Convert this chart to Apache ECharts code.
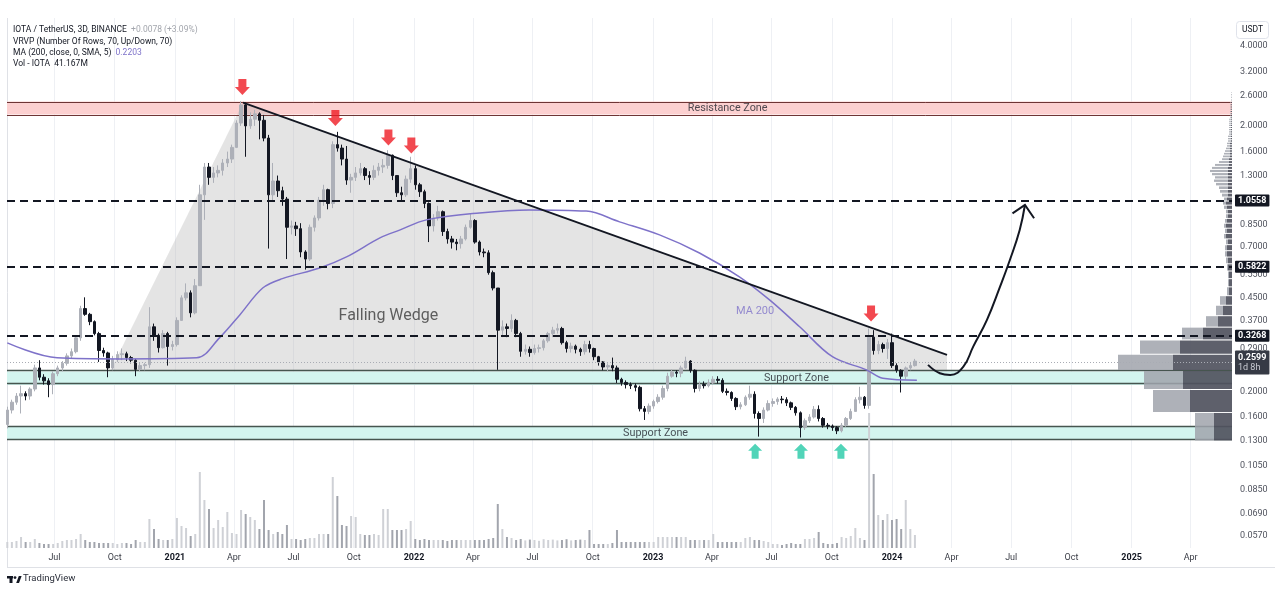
<!DOCTYPE html>
<html><head><meta charset="utf-8">
<script src="https://cdn.jsdelivr.net/npm/echarts@6/dist/echarts.min.js"></script>
<style>html,body{margin:0;padding:0;background:#fff}#chart{width:1280px;height:592px}</style>
</head><body><div id="chart"></div>
<script>
// ---------- DATA ----------
const firstWeek = '2020-04-20';           // weekly candles, one row per week
// [open, close, low, high]
const candles = [
[0.150,0.170,0.145,0.175],[0.170,0.182,0.165,0.186],[0.182,0.192,0.178,0.197],[0.192,0.196,0.165,0.210],[0.196,0.192,0.185,0.200],
[0.192,0.204,0.186,0.207],[0.204,0.245,0.200,0.252],[0.245,0.226,0.220,0.262],[0.226,0.219,0.212,0.232],[0.219,0.212,0.190,0.224],
[0.212,0.233,0.195,0.238],[0.233,0.245,0.228,0.250],[0.245,0.255,0.238,0.260],[0.255,0.272,0.250,0.278],[0.272,0.282,0.265,0.290],
[0.282,0.318,0.278,0.325],[0.318,0.410,0.310,0.420],[0.410,0.390,0.385,0.452],[0.390,0.366,0.355,0.395],[0.366,0.330,0.325,0.370],
[0.330,0.285,0.258,0.335],[0.285,0.279,0.270,0.292],[0.279,0.245,0.226,0.282],[0.245,0.264,0.240,0.272],[0.264,0.275,0.258,0.283],
[0.275,0.277,0.262,0.290],[0.277,0.268,0.260,0.282],[0.268,0.262,0.255,0.272],[0.262,0.242,0.228,0.265],[0.242,0.250,0.238,0.256],
[0.250,0.252,0.240,0.256],[0.252,0.350,0.245,0.415],[0.350,0.325,0.310,0.360],[0.325,0.292,0.280,0.330],[0.292,0.330,0.290,0.340],
[0.330,0.295,0.250,0.335],[0.295,0.300,0.285,0.310],[0.300,0.370,0.295,0.380],[0.370,0.450,0.370,0.460],[0.450,0.470,0.440,0.510],
[0.470,0.395,0.380,0.480],[0.395,0.500,0.390,0.530],[0.500,1.100,0.500,1.200],[1.100,1.400,0.885,1.450],[1.400,1.280,1.200,1.450],
[1.280,1.330,1.220,1.400],[1.330,1.360,1.280,1.420],[1.360,1.450,1.300,1.500],[1.450,1.500,1.400,1.600],[1.500,1.660,1.450,1.700],
[1.660,2.050,1.650,2.100],[2.050,2.400,2.000,2.480],[2.400,2.000,1.530,2.450],[2.000,2.120,1.950,2.250],[2.120,2.220,2.000,2.300],
[2.220,2.100,1.780,2.250],[2.100,1.800,1.750,2.200],[1.800,1.100,0.690,1.850],[1.100,1.240,1.050,1.450],[1.240,1.140,1.080,1.300],
[1.140,1.060,1.000,1.180],[1.060,0.830,0.630,1.080],[0.830,0.840,0.780,0.880],[0.840,0.820,0.770,0.870],[0.820,0.670,0.640,0.860],
[0.670,0.630,0.575,0.680],[0.630,0.830,0.620,0.850],[0.830,0.900,0.800,0.920],[0.900,1.050,0.880,1.080],[1.050,1.150,1.000,1.200],
[1.150,1.020,0.970,1.160],[1.020,1.700,0.980,1.750],[1.700,1.650,1.600,1.900],[1.650,1.500,1.420,1.700],[1.500,1.250,1.200,1.680],
[1.250,1.280,1.120,1.320],[1.280,1.330,1.240,1.400],[1.330,1.380,1.300,1.450],[1.380,1.300,1.250,1.400],[1.300,1.280,1.200,1.350],
[1.280,1.360,1.250,1.420],[1.360,1.400,1.300,1.450],[1.400,1.420,1.330,1.500],[1.420,1.550,1.380,1.620],[1.550,1.300,1.250,1.560],
[1.300,1.120,1.080,1.300],[1.120,1.100,1.040,1.180],[1.100,1.260,1.080,1.300],[1.260,1.380,1.220,1.530],[1.380,1.200,1.150,1.420],
[1.200,1.130,1.080,1.220],[1.130,1.020,0.980,1.150],[1.020,0.840,0.730,1.030],[0.840,0.900,0.800,0.930],[0.900,0.950,0.880,1.000],
[0.950,0.800,0.770,0.960],[0.800,0.750,0.720,0.820],[0.750,0.730,0.690,0.770],[0.730,0.720,0.680,0.750],[0.720,0.750,0.690,0.770],
[0.750,0.830,0.740,0.850],[0.830,0.880,0.820,0.930],[0.880,0.730,0.720,0.890],[0.730,0.670,0.650,0.740],[0.670,0.665,0.640,0.690],
[0.665,0.560,0.550,0.680],[0.560,0.490,0.480,0.570],[0.490,0.340,0.241,0.490],[0.340,0.350,0.320,0.370],[0.350,0.345,0.320,0.360],
[0.345,0.370,0.335,0.390],[0.370,0.330,0.320,0.375],[0.330,0.283,0.270,0.335],[0.283,0.288,0.275,0.300],[0.288,0.280,0.270,0.295],
[0.280,0.290,0.275,0.300],[0.290,0.292,0.280,0.300],[0.292,0.310,0.285,0.315],[0.310,0.330,0.305,0.335],[0.330,0.340,0.320,0.350],
[0.340,0.345,0.330,0.360],[0.345,0.305,0.300,0.350],[0.305,0.290,0.280,0.310],[0.290,0.296,0.280,0.305],[0.296,0.288,0.278,0.300],
[0.288,0.282,0.272,0.292],[0.282,0.300,0.275,0.310],[0.300,0.290,0.280,0.310],[0.290,0.270,0.262,0.292],[0.270,0.258,0.250,0.272],
[0.258,0.247,0.240,0.260],[0.247,0.250,0.238,0.255],[0.250,0.245,0.238,0.268],[0.245,0.222,0.215,0.250],[0.222,0.216,0.210,0.225],
[0.216,0.212,0.205,0.220],[0.212,0.210,0.204,0.216],[0.210,0.207,0.200,0.214],[0.207,0.172,0.168,0.210],[0.172,0.168,0.156,0.176],
[0.168,0.176,0.164,0.180],[0.176,0.183,0.172,0.186],[0.183,0.190,0.180,0.195],[0.190,0.205,0.186,0.210],[0.205,0.228,0.200,0.235],
[0.228,0.236,0.225,0.242],[0.236,0.234,0.226,0.240],[0.234,0.245,0.226,0.250],[0.245,0.260,0.243,0.270],[0.260,0.240,0.235,0.262],
[0.240,0.205,0.198,0.242],[0.205,0.212,0.200,0.218],[0.212,0.210,0.205,0.218],[0.210,0.215,0.207,0.222],[0.215,0.222,0.212,0.228],
[0.222,0.220,0.214,0.228],[0.220,0.200,0.197,0.224],[0.200,0.198,0.193,0.205],[0.198,0.188,0.184,0.200],[0.188,0.175,0.170,0.190],
[0.175,0.178,0.171,0.182],[0.178,0.190,0.176,0.193],[0.190,0.195,0.186,0.210],[0.195,0.165,0.158,0.200],[0.165,0.158,0.135,0.168],
[0.158,0.170,0.152,0.174],[0.170,0.180,0.168,0.185],[0.180,0.183,0.175,0.188],[0.183,0.187,0.178,0.190],[0.187,0.186,0.180,0.192],
[0.186,0.181,0.176,0.190],[0.181,0.174,0.170,0.183],[0.174,0.166,0.162,0.176],[0.166,0.146,0.134,0.168],[0.146,0.155,0.143,0.158],
[0.155,0.160,0.152,0.164],[0.160,0.171,0.158,0.176],[0.171,0.158,0.154,0.177],[0.158,0.149,0.146,0.160],[0.149,0.148,0.144,0.152],
[0.148,0.146,0.142,0.150],[0.146,0.142,0.138,0.148],[0.142,0.149,0.140,0.152],[0.149,0.158,0.147,0.160],[0.158,0.168,0.156,0.172],
[0.168,0.186,0.168,0.190],[0.186,0.190,0.180,0.208],[0.190,0.177,0.172,0.192],[0.177,0.320,0.172,0.345],[0.320,0.285,0.275,0.340],
[0.285,0.300,0.276,0.310],[0.300,0.290,0.280,0.305],[0.290,0.305,0.265,0.315],[0.305,0.250,0.245,0.330],[0.250,0.240,0.235,0.255],
[0.240,0.228,0.198,0.242],[0.228,0.245,0.222,0.248],[0.245,0.250,0.240,0.258],[0.250,0.260,0.248,0.265]
];
// weekly volume, millions
const volumes = [
30,30,35,55,30,30,45,25,20,20,20,25,35,40,40,45,70,40,30,30,
25,25,25,25,20,25,25,20,40,30,30,145,95,45,40,40,45,150,110,100,
60,70,380,240,195,100,140,105,180,75,70,190,170,155,140,95,240,90,70,80,
70,115,45,45,40,45,50,50,70,70,70,355,260,115,110,160,155,70,65,65,
70,65,195,195,90,90,90,95,135,45,40,45,40,40,40,40,35,40,40,40,
40,40,40,40,40,45,50,220,95,55,50,40,45,38,42,40,36,44,40,42,
38,40,44,38,40,42,40,90,20,20,20,20,25,90,30,30,30,30,30,30,
30,30,55,55,55,55,55,55,55,40,40,40,40,40,70,30,30,30,30,30,
30,50,55,40,40,35,30,20,20,15,20,25,20,20,45,45,50,80,25,20,
20,25,55,50,60,100,50,40,675,370,165,140,170,140,145,95,240,95,65
];
// MA 200
const maDates = ['2020-04-20','2020-07-05','2020-10-09','2021-02-03','2021-03-10','2021-04-10','2021-05-15','2021-06-14','2021-08-10','2021-09-20','2021-11-10','2021-12-10','2022-01-20','2022-04-11','2022-06-26','2022-09-21','2022-11-11','2023-01-11','2023-03-13','2023-05-13','2023-06-28','2023-08-13','2023-10-02','2023-11-23','2023-12-18','2024-02-08'];
const maValues = [0.3044,0.2675,0.265,0.2675,0.318,0.388,0.490,0.5315,0.583,0.642,0.757,0.81,0.885,0.94,0.965,0.955,0.87,0.777,0.664,0.540,0.442,0.350,0.270,0.241,0.224,0.2203];

const priceTicks = [4.0,3.2,2.6,2.0,1.6,1.3,0.85,0.7,0.55,0.45,0.37,0.29,0.2,0.16,0.13,0.105,0.085,0.069,0.057];
const timeTickDates = ['2020-07-01','2020-10-01','2021-01-01','2021-04-01','2021-07-01','2021-10-01','2022-01-01','2022-04-01','2022-07-01','2022-10-01','2023-01-01','2023-04-01','2023-07-01','2023-10-01','2024-01-01','2024-04-01','2024-07-01','2024-10-01','2025-01-01','2025-04-01'];
const timeTickLabels = ['Jul','Oct','2021','Apr','Jul','Oct','2022','Apr','Jul','Oct','2023','Apr','Jul','Oct','2024','Apr','Jul','Oct','2025','Apr'];

const levelPrices = [1.0558, 0.5822, 0.3268];
const lastPrice = 0.2599;
const countdown = '1d 8h';
const resistanceZone = [2.209, 2.472];
const supportZones = [[0.2114, 0.2377], [0.1312, 0.1473]];

const trendDates = ['2021-04-15', '2024-03-25'];
const trendPrices = [2.446, 0.2744];
const wedgeDates = ['2020-09-24', '2021-04-15', '2024-03-25', '2024-03-25'];
const wedgePrices = [0.238, 2.446, 0.2744, 0.238];

const redArrowDates = ['2021-04-14','2021-09-03','2021-11-23','2021-12-28','2023-11-30'];
const redArrowPrices = [2.803, 2.142, 1.809, 1.688, 0.393];
const tealArrowDates = ['2023-06-06','2023-08-15','2023-10-15'];
const tealArrowPrices = [0.1188, 0.1188, 0.1188];

const curveDates = ['2024-02-25','2024-03-14','2024-03-30','2024-04-19','2024-05-04','2024-05-25','2024-06-14','2024-06-29','2024-07-14','2024-07-22'];
const curvePrices = [0.2515,0.234,0.2306,0.2478,0.2947,0.3716,0.496,0.625,0.811,1.007];
const headDates = ['2024-07-03','2024-07-22','2024-08-05'];
const headPrices = [0.937, 1.007, 0.898];

const noteTexts = ['Falling Wedge','MA 200','Resistance Zone','Support Zone','Support Zone'];
const noteDates = ['2021-11-23','2023-06-06','2023-04-25','2023-08-08','2023-01-05'];
const notePrices = [0.385, 0.4016, 2.336, 0.2236, 0.1389];

// Visible-range volume profile: 70 rows from 0.13, step 0.0365
const vrvpStart = 0.13, vrvpStep = 0.0365;
const vrvpDown = [18,42,49,59,52,29,14,9,6,3,3,3,4,4,5,5,4,6,5,6,5,4,4,5,6,5,4,4,4,4,4,4,4,4,4,3,3,3,2,2,2,2,2,2,1,1,1,1,1,1,1,1,1,1,1,1,1,1,1,1,1,1,1,1,0,0,0,0,0,0];
const vrvpUp   = [19,37,39,55,40,21,12,7,6,2,1,1,1,2,2,2,2,2,2,2,2,2,2,3,3,3,6,8,9,12,14,13,16,18,16,14,10,7,7,6,5,4,3,3,3,3,3,2,2,2,2,2,2,2,2,1,1,1,1,1,1,1,1,1,1,1,1,1,1,1];

// ---------- LAYOUT ----------
const DAY = 86400000;
const EPOCH = Date.parse('2021-01-01T00:00:00Z');
const X = s => (Date.parse(s + 'T00:00:00Z') - EPOCH) / DAY;   // days since 2021-01-01
const L = Math.log10;
const xMin = -256.46, xMax = 1614.2;
const yMin = L(0.05137), yMax = L(5.10);
const G = { left: 7, right: 48, top: 18, bottom: 44 };
const FONT = 'Roboto, "Noto Sans", sans-serif';
const INK = '#131722';

const candleData = candles.map((c, i) => [X(firstWeek) + i * 7, L(c[0]), L(c[1]), L(c[2]), L(c[3])]);
const volData = volumes.map((v, i) => ({
  value: [X(firstWeek) + i * 7, v],
  itemStyle: { color: candles[i][1] >= candles[i][0] ? '#cfd1d6' : '#a2a5ad' }
}));
const pts = (ds, ps) => ds.map((d, i) => [X(d), L(ps[i])]);
const tickX = timeTickDates.map(X);

const noteStyles = [
  { fontSize: 16, color: '#3b3b3b' },
  { fontSize: 11, color: '#7e72c9' },
  { fontSize: 10.8, color: '#23262e' },
  { fontSize: 10.8, color: '#23262e' },
  { fontSize: 10.8, color: '#23262e' }
];
const zoneEdgeLine = (p, color, w) => ({ yAxis: L(p), lineStyle: { color: color, type: 'solid', width: w } });
const LF = '8.5px ' + FONT;

const chart = echarts.init(document.getElementById('chart'), null, { renderer: 'canvas' });
chart.setOption({
  animation: false,
  backgroundColor: '#ffffff',
  textStyle: { fontFamily: FONT },
  grid: [
    Object.assign({ outerBoundsMode: 'none' }, G),
    { left: 7, right: 48, bottom: 44, height: 200, outerBoundsMode: 'none' },
    Object.assign({ outerBoundsMode: 'none' }, G)
  ],
  xAxis: [
    { type: 'value', gridIndex: 0, min: xMin, max: xMax,
      axisLine: { show: false }, axisTick: { show: false }, splitLine: { show: false },
      axisLabel: { customValues: tickX, margin: 5, fontSize: 9, color: '#3a3d46', fontFamily: FONT,
        formatter: v => { let k = -1; tickX.forEach((t, i) => { if (Math.abs(t - v) < 0.01) k = i; }); const s = k >= 0 ? timeTickLabels[k] : ''; return /^\d{4}$/.test(s) ? '{y|' + s + '}' : s; },
        rich: { y: { fontWeight: 'bold', fontSize: 9, color: INK, fontFamily: FONT } } } },
    { type: 'value', gridIndex: 1, min: xMin, max: xMax, show: false },
    { type: 'value', gridIndex: 2, min: 0, max: 1225, inverse: true, show: false }
  ],
  yAxis: [
    { type: 'value', gridIndex: 0, position: 'right', min: yMin, max: yMax,
      axisLine: { show: false }, axisTick: { show: false }, splitLine: { show: false },
      axisLabel: { customValues: priceTicks.map(L), margin: 8, fontSize: 9, color: '#50535e', fontFamily: FONT,
        formatter: v => Math.pow(10, v).toFixed(4) } },
    { type: 'value', gridIndex: 1, min: 0, max: 1000, show: false },
    { type: 'value', gridIndex: 2, min: yMin, max: yMax, show: false }
  ],
  series: [
    { // vertical grid lines
      type: 'line', xAxisIndex: 0, yAxisIndex: 0, data: [[X(firstWeek), L(0.2)]], symbol: 'none',
      lineStyle: { opacity: 0 }, silent: true, z: 0,
      markLine: { silent: true, symbol: ['none', 'none'], z: 0, label: { show: false },
        lineStyle: { color: '#eef0f4', type: 'solid', width: 1 },
        data: tickX.map(x => ({ xAxis: x })) }
    },
    { // wedge shading
      type: 'custom', xAxisIndex: 0, yAxisIndex: 0, z: 1, silent: true,
      data: [[X(wedgeDates[0]), L(wedgePrices[0])]],
      renderItem: (params, api) => ({
        type: 'polygon',
        shape: { points: wedgeDates.map((d, i) => api.coord([X(d), L(wedgePrices[i])])) },
        style: { fill: 'rgba(175,175,175,0.34)' }
      })
    },
    { // zones
      type: 'line', xAxisIndex: 0, yAxisIndex: 0, data: [[X(firstWeek), L(0.2)]], symbol: 'none',
      lineStyle: { opacity: 0 }, silent: true, z: 1,
      markArea: { silent: true, z: 1, label: { show: false },
        data: [
          [{ yAxis: L(resistanceZone[0]), itemStyle: { color: '#fcd0d0', borderWidth: 0 } }, { yAxis: L(resistanceZone[1]) }],
          [{ yAxis: L(supportZones[0][0]), itemStyle: { color: '#d3f5ef', borderWidth: 0 } }, { yAxis: L(supportZones[0][1]) }],
          [{ yAxis: L(supportZones[1][0]), itemStyle: { color: '#d3f5ef', borderWidth: 0 } }, { yAxis: L(supportZones[1][1]) }]
        ] },
      markLine: { silent: true, symbol: ['none', 'none'], z: 2, label: { show: false },
        data: [
          zoneEdgeLine(resistanceZone[0], '#6e3535', 1), zoneEdgeLine(resistanceZone[1], '#6e3535', 1),
          zoneEdgeLine(supportZones[0][0], '#46554f', 1.3), zoneEdgeLine(supportZones[0][1], '#46554f', 1.3),
          zoneEdgeLine(supportZones[1][0], '#46554f', 1.3), zoneEdgeLine(supportZones[1][1], '#46554f', 1.3)
        ] }
    },
    { // volume
      type: 'bar', xAxisIndex: 1, yAxisIndex: 1, data: volData, barWidth: 2, z: 2, silent: true
    },
    { // candles
      type: 'candlestick', xAxisIndex: 0, yAxisIndex: 0, data: candleData, z: 3,
      encode: { x: 0, y: [1, 2, 3, 4] }, barWidth: 3, silent: true,
      itemStyle: { color: '#adb0b8', color0: INK, borderColor: '#adb0b8', borderColor0: INK, borderWidth: 1 }
    },
    { // MA 200
      type: 'line', xAxisIndex: 0, yAxisIndex: 0, data: pts(maDates, maValues), smooth: 0.35,
      symbol: 'none', lineStyle: { color: '#7e72c9', width: 1.5 }, z: 4, silent: true
    },
    { // volume profile
      type: 'custom', xAxisIndex: 2, yAxisIndex: 2, z: 4, silent: true,
      data: vrvpUp.map((u, k) => [u + vrvpDown[k], L(vrvpStart + k * vrvpStep)]),
      renderItem: (params, api) => {
        const k = params.dataIndex;
        const lo = vrvpStart + k * vrvpStep, hi = lo + vrvpStep;
        const d = vrvpDown[k], u = vrvpUp[k];
        const p0 = api.coord([0, L(hi)]);
        const p1 = api.coord([d, L(lo)]);
        const p2 = api.coord([d + u, L(lo)]);
        const y = p0[1] + 0.5, h = Math.max(0.6, p1[1] - p0[1] - 1);
        return { type: 'group', children: [
          { type: 'rect', shape: { x: p1[0], y: y, width: p0[0] - p1[0], height: h }, style: { fill: 'rgba(80,83,94,0.92)' } },
          { type: 'rect', shape: { x: p2[0], y: y, width: p1[0] - p2[0], height: h }, style: { fill: 'rgba(160,163,172,0.85)' } }
        ] };
      }
    },
    { // trend line + levels
      type: 'line', xAxisIndex: 0, yAxisIndex: 0, data: pts(trendDates, trendPrices), symbol: 'none',
      lineStyle: { color: INK, width: 1.8 }, z: 5, silent: true,
      markLine: { silent: true, symbol: ['none', 'none'], z: 6,
        data: levelPrices.map(p => ({
          yAxis: L(p),
          lineStyle: { color: INK, type: [8, 5], width: 1.8 },
          label: { show: true, position: 'end', distance: 3, formatter: p.toFixed(4), color: '#ffffff', fontSize: 9,
            fontFamily: FONT, fontWeight: 'bold', backgroundColor: INK, padding: [2, 3, 1, 3], borderRadius: 1 }
        })).concat([{
          yAxis: L(lastPrice),
          lineStyle: { color: '#a9acb4', type: [1, 2], width: 1 },
          label: { show: true, position: 'end', distance: 3, formatter: '{a|' + lastPrice.toFixed(4) + '}\n{b|' + countdown + '}',
            backgroundColor: '#363a45', padding: [2, 3, 2, 3], borderRadius: 1,
            rich: { a: { color: '#ffffff', fontSize: 9, fontWeight: 'bold', fontFamily: FONT, lineHeight: 10 },
                    b: { color: '#c9ccd4', fontSize: 9, fontFamily: FONT, lineHeight: 10 } } }
        }]) }
    },
    { // curved projection arrow
      type: 'line', xAxisIndex: 0, yAxisIndex: 0, data: pts(curveDates, curvePrices), smooth: 0.45,
      symbol: 'none', lineStyle: { color: INK, width: 2 }, z: 6, silent: true
    },
    {
      type: 'line', xAxisIndex: 0, yAxisIndex: 0, data: pts(headDates, headPrices),
      symbol: 'none', lineStyle: { color: INK, width: 2, join: 'miter' }, z: 6, silent: true
    },
    { // red down arrows
      type: 'scatter', xAxisIndex: 0, yAxisIndex: 0, data: pts(redArrowDates, redArrowPrices), clip: false,
      symbol: 'path://M3.5,0 L11.5,0 L11.5,8 L15,8 L7.5,16 L0,8 L3.5,8 Z', symbolSize: [15, 16], symbolKeepAspect: false,
      itemStyle: { color: '#ef1c24' }, z: 7, silent: true
    },
    { // teal up arrows
      type: 'scatter', xAxisIndex: 0, yAxisIndex: 0, data: pts(tealArrowDates, tealArrowPrices), clip: false,
      symbol: 'path://M7,0 L14,7 L10.5,7 L10.5,15 L3.5,15 L3.5,7 L0,7 Z', symbolSize: [14, 15], symbolKeepAspect: false,
      itemStyle: { color: '#26c9a6' }, z: 7, silent: true
    },
    { // text notes
      type: 'scatter', xAxisIndex: 0, yAxisIndex: 0, clip: false, symbolSize: 1, z: 7, silent: true,
      itemStyle: { color: 'rgba(0,0,0,0)' },
      data: noteTexts.map((t, i) => ({
        value: [X(noteDates[i]), L(notePrices[i])],
        label: Object.assign({ show: true, position: 'inside', formatter: t, fontFamily: FONT }, noteStyles[i])
      }))
    }
  ],
  graphic: [
    { type: 'line', shape: { x1: 7.5, y1: 18, x2: 7.5, y2: 567 }, style: { stroke: '#dfe1e6', lineWidth: 1 }, z: 0 },
    { type: 'line', shape: { x1: 7, y1: 567.5, x2: 1275, y2: 567.5 }, style: { stroke: '#dfe1e6', lineWidth: 1 }, z: 0 },
    { type: 'text', left: 13, top: 25.5, z: 10, style: { text: '{a|IOTA / TetherUS, 3D, BINANCE}  {b|+0.0078 (+3.09%)}', font: LF,
      rich: { a: { fill: INK, fontSize: 8.5, fontFamily: FONT }, b: { fill: '#a3a6ad', fontSize: 8.5, fontFamily: FONT } } } },
    { type: 'text', left: 13, top: 37, z: 10, style: { text: 'VRVP (Number Of Rows, 70, Up/Down, 70)', fill: INK, font: LF } },
    { type: 'text', left: 13, top: 48.5, z: 10, style: { text: '{a|MA (200, close, 0, SMA, 5)}  {b|0.2203}', font: LF,
      rich: { a: { fill: INK, fontSize: 8.5, fontFamily: FONT }, b: { fill: '#7e72c9', fontSize: 8.5, fontFamily: FONT } } } },
    { type: 'text', left: 13, top: 59.5, z: 10, style: { text: 'Vol - IOTA  41.167M', fill: INK, font: LF } },
    { type: 'rect', shape: { x: 1236.5, y: 21.5, width: 32, height: 17, r: 3 }, style: { fill: '#fff', stroke: '#e0e3eb', lineWidth: 1 }, z: 10 },
    { type: 'text', x: 1252.5, y: 30, z: 11, style: { text: 'USDT', fill: INK, font: '8.5px ' + FONT, align: 'center', verticalAlign: 'middle' } },
    { type: 'rect', shape: { x: 7, y: 576, width: 6, height: 2.5 }, style: { fill: INK }, z: 10 },
    { type: 'rect', shape: { x: 9.5, y: 576, width: 3, height: 7 }, style: { fill: INK }, z: 10 },
    { type: 'circle', shape: { cx: 15, cy: 577.6, r: 1.4 }, style: { fill: INK }, z: 10 },
    { type: 'polygon', shape: { points: [[16.2, 583], [18.8, 576], [21.6, 576], [19, 583]] }, style: { fill: INK }, z: 10 },
    { type: 'text', left: 23, top: 574, z: 10, style: { text: 'TradingView', fill: '#2a2e39', font: '9.5px ' + FONT } }
  ]
});
</script>
</body></html>
